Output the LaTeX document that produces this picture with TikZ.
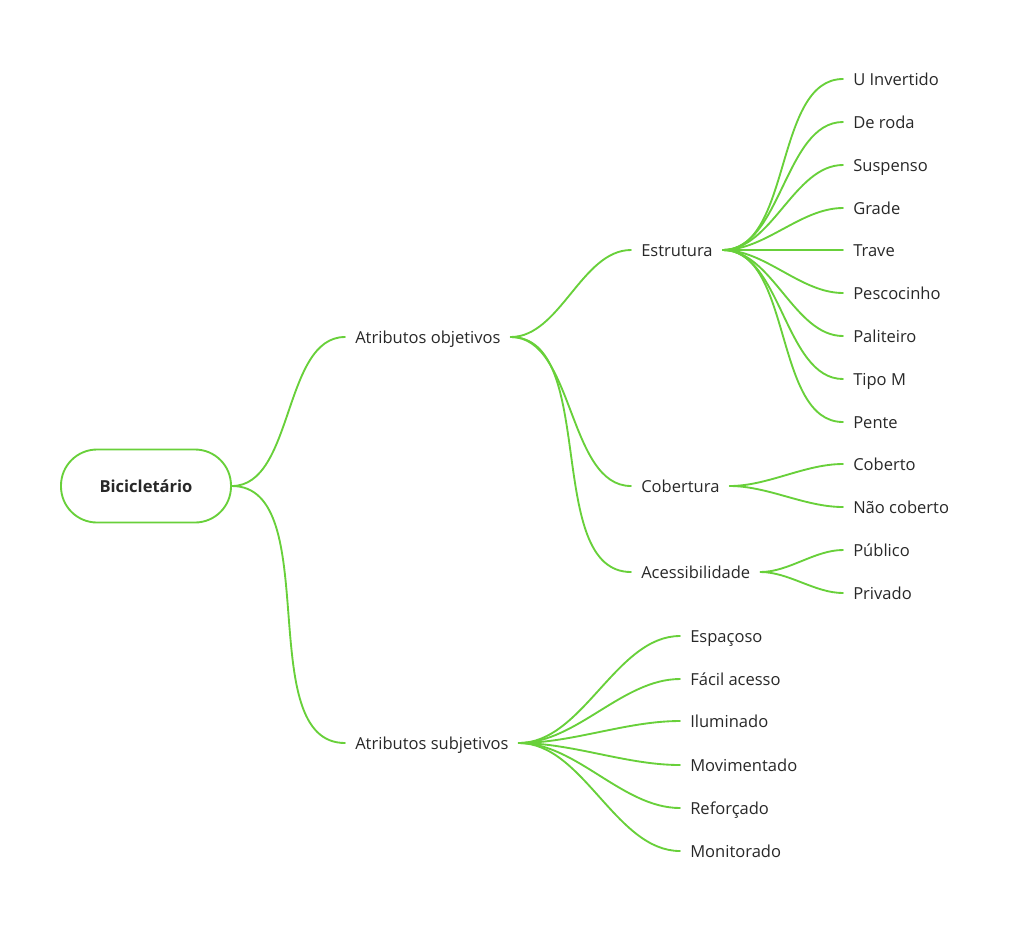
\documentclass[tikz,border=0pt]{standalone}
\usepackage{fontspec}
\setmainfont{Open Sans}
\usetikzlibrary{positioning}
\definecolor{branchgreen}{RGB}{104, 208, 58}
\definecolor{labelgray}{RGB}{40, 40, 40}
\newcommand{\mapfont}{\fontsize{12.4pt}{14pt}\selectfont}
\tikzset{
  branch/.style={line width=1.4pt, branchgreen, line cap=round, looseness=0.85},
}

\begin{document}
\begin{tikzpicture}[
    x=0.75pt, y=-0.75pt,
    rootnode/.style={rectangle, draw=branchgreen, line width=1.4pt, fill=white, minimum width=127.5pt, minimum height=54.75pt, rounded corners=27pt, font=\mapfont\bfseries, text=labelgray},
    topic/.style={anchor=west, inner xsep=7.5pt, inner ysep=0pt, text height=11.8pt, text depth=1.4pt, font=\mapfont, text=labelgray}
]
    \useasboundingbox (0,0) rectangle (1024,933);

    % Main nodes
    \node[rootnode] (root) at (146,486) {Bicicletário};
    \node[topic] (objet) at (345,337) {Atributos objetivos};
    \node[topic] (subjet) at (345,743) {Atributos subjetivos};
    \node[topic] (estrut) at (631,250) {Estrutura};
    \node[topic] (cobert) at (631,486) {Cobertura};
    \node[topic] (acess) at (631,572) {Acessibilidade};

    % Leaves
    \node[topic] (uinv) at (843,79) {U Invertido};
    \node[topic] (deroda) at (843,122) {De roda};
    \node[topic] (susp) at (843,165) {Suspenso};
    \node[topic] (grade) at (843,208) {Grade};
    \node[topic] (trave) at (843,250) {Trave};
    \node[topic] (pesc) at (843,293) {Pescocinho};
    \node[topic] (palit) at (843,336) {Paliteiro};
    \node[topic] (tipom) at (843,379) {Tipo M};
    \node[topic] (pente) at (843,422) {Pente};
    \node[topic] (coberto) at (843,464) {Coberto};
    \node[topic] (naocob) at (843,507) {Não coberto};
    \node[topic] (publico) at (843,550) {Público};
    \node[topic] (privado) at (843,593) {Privado};
    \node[topic] (espac) at (680,636) {Espaçoso};
    \node[topic] (facil) at (680,679) {Fácil acesso};
    \node[topic] (ilum) at (680,721) {Iluminado};
    \node[topic] (movim) at (680,765) {Movimentado};
    \node[topic] (reforc) at (680,808) {Reforçado};
    \node[topic] (monit) at (680,851) {Monitorado};

    % Branches
    \draw[branch] (root.east) to[out=0, in=180] (objet.west);
    \draw[branch] (root.east) to[out=0, in=180] (subjet.west);
    \draw[branch] (objet.east) to[out=0, in=180] (estrut.west);
    \draw[branch] (objet.east) to[out=0, in=180] (cobert.west);
    \draw[branch] (objet.east) to[out=0, in=180] (acess.west);
    \draw[branch] (estrut.east) to[out=0, in=180] (uinv.west);
    \draw[branch] (estrut.east) to[out=0, in=180] (deroda.west);
    \draw[branch] (estrut.east) to[out=0, in=180] (susp.west);
    \draw[branch] (estrut.east) to[out=0, in=180] (grade.west);
    \draw[branch] (estrut.east) to[out=0, in=180] (trave.west);
    \draw[branch] (estrut.east) to[out=0, in=180] (pesc.west);
    \draw[branch] (estrut.east) to[out=0, in=180] (palit.west);
    \draw[branch] (estrut.east) to[out=0, in=180] (tipom.west);
    \draw[branch] (estrut.east) to[out=0, in=180] (pente.west);
    \draw[branch] (cobert.east) to[out=0, in=180] (coberto.west);
    \draw[branch] (cobert.east) to[out=0, in=180] (naocob.west);
    \draw[branch] (acess.east) to[out=0, in=180] (publico.west);
    \draw[branch] (acess.east) to[out=0, in=180] (privado.west);
    \draw[branch] (subjet.east) to[out=0, in=180] (espac.west);
    \draw[branch] (subjet.east) to[out=0, in=180] (facil.west);
    \draw[branch] (subjet.east) to[out=0, in=180] (ilum.west);
    \draw[branch] (subjet.east) to[out=0, in=180] (movim.west);
    \draw[branch] (subjet.east) to[out=0, in=180] (reforc.west);
    \draw[branch] (subjet.east) to[out=0, in=180] (monit.west);
\end{tikzpicture}
\end{document}
